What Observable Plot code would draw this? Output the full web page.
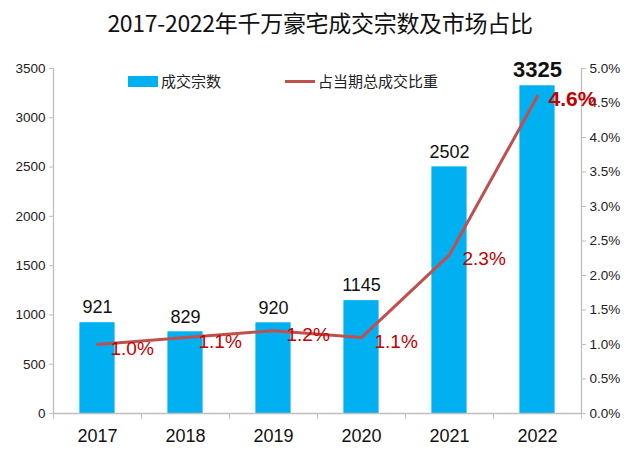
<!DOCTYPE html>
<html><head><meta charset="utf-8">
<script src="https://cdn.jsdelivr.net/npm/d3@7"></script>
<script src="https://cdn.jsdelivr.net/npm/@observablehq/plot@0.6"></script>
<style>
body{margin:0;background:#fff;font-family:"Liberation Sans",Arial,sans-serif;}
#wrap{position:relative;width:640px;height:469px;background:#fff}
#title{position:absolute;left:0;top:0;width:640px;height:45px;text-align:center;font-family:"Noto Sans CJK SC","Noto Sans",sans-serif;font-size:23px;font-weight:400;line-height:44px;color:#111;letter-spacing:-0.3px;z-index:2}
#chart{position:absolute;left:0;top:45px;z-index:1}
.leg{position:absolute;top:72px;font-family:"Noto Sans CJK SC",sans-serif;font-size:15px;line-height:18px;color:#222;display:flex;align-items:center;gap:3px;z-index:3}
</style></head>
<body><div id="wrap">
<div id="title">2017-2022年千万豪宅成交宗数及市场占比</div>
<div id="chart"></div>
<div class="leg" style="left:128px"><span style="display:inline-block;width:30px;height:11px;background:#00B0F0"></span>成交宗数</div>
<div class="leg" style="left:285px"><span style="display:inline-block;width:30px;height:3px;background:#C0504D"></span>占当期总成交比重</div>
</div>
<script>
const years = ["2017","2018","2019","2020","2021","2022"];
const counts = [921, 829, 920, 1145, 2502, 3325];
const shares = [1.0, 1.1, 1.2, 1.1, 2.3, 4.6];
const leftTicks = [0,500,1000,1500,2000,2500,3000,3500];
const rightTicks = [0,0.5,1,1.5,2,2.5,3,3.5,4,4.5,5];

const ratio = 3500/5; // right axis: 5% maps to 3500
const data = years.map((y,i)=>({i, year:y, count:counts[i], share:shares[i], last: i===years.length-1}));
const gray = "#BFBFBF";

const chart = Plot.plot({
  width: 640, height: 424,
  marginLeft: 53, marginRight: 59, marginTop: 23, marginBottom: 56,
  style: {fontFamily: "Liberation Sans, Arial, sans-serif", background: "transparent"},
  x: {domain: [-0.5, 5.5], axis: null},
  y: {domain: [0, 3500], axis: null},
  marks: [
    Plot.rectY(data, {x1: d=>d.i-0.2, x2: d=>d.i+0.2, y1: 0, y2: "count", fill: "#00B0F0"}),
    Plot.ruleY([0], {x1: -0.5, x2: 5.5, stroke: gray, strokeWidth: 1.3}),
    Plot.ruleX([-0.5, 5.5], {y1: 0, y2: 3500, stroke: gray, strokeWidth: 1.3}),
    Plot.axisY(leftTicks, {anchor: "left", tickSize: 4, tickPadding: 4, stroke: gray, fill: "#222", fontSize: 13.5, label: null, tickFormat: v => String(v)}),
    Plot.axisY(rightTicks.map(v=>v*ratio), {anchor: "right", tickSize: 4, tickPadding: 4, stroke: gray, fill: "#222", fontSize: 13.5, label: null, tickFormat: v => (v/ratio).toFixed(1)+"%"}),
    Plot.axisX(d3.range(-0.5, 6, 1), {anchor: "bottom", tickSize: 6, stroke: gray, tickFormat: () => "", label: null}),
    Plot.axisX(d3.range(0, 6), {anchor: "bottom", tickSize: 0, tickPadding: 16, fill: "#111", fontSize: 18, tickFormat: i => years[i], label: null}),
    Plot.line(data, {x: "i", y: d => d.share*ratio, stroke: "#C0504D", strokeWidth: 3}),
    Plot.text(data.filter(d=>!d.last), {x: "i", y: "count", text: d => String(d.count), dy: -15, fontSize: 18, fill: "#111"}),
    Plot.text(data.filter(d=>d.last), {x: "i", y: "count", text: d => String(d.count), dy: -16, fontSize: 22, fontWeight: "bold", fill: "#111"}),
    Plot.text(data.filter(d=>!d.last), {x: "i", y: d => d.share*ratio, text: d => d.share.toFixed(1)+"%", dx: 13, dy: 4, textAnchor: "start", fontSize: 19, fill: "#C00000"}),
    Plot.text(data.filter(d=>d.last), {x: "i", y: d => d.share*ratio, text: d => d.share.toFixed(1)+"%", dx: 11, dy: 3, textAnchor: "start", fontSize: 21, fontWeight: "bold", fill: "#C00000"})
  ]
});
document.getElementById("chart").appendChild(chart);
</script>
</body></html>
